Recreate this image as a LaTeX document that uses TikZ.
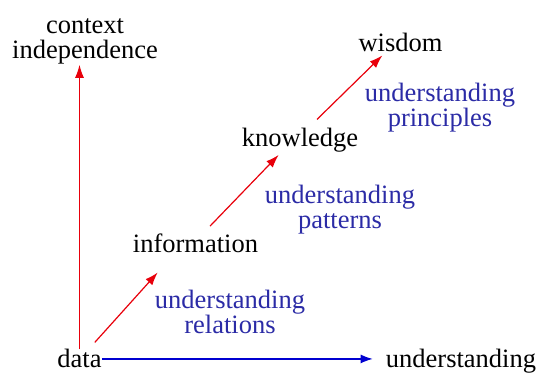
\documentclass[tikz,border=0pt]{standalone}
\usepackage{fontspec}
\setmainfont{Liberation Serif}
\usetikzlibrary{arrows.meta,calc}
\definecolor{DKRed}{HTML}{E8000B}
\definecolor{DKBlue}{HTML}{2B2BA6}
\definecolor{DKArrowBlue}{HTML}{0000D0}

\begin{document}
\begin{tikzpicture}[x=1pt,y=1pt,
  lbl/.style={inner sep=0pt,anchor=base,font=\fontsize{26.5}{25}\selectfont},
  note/.style={lbl,align=center,text=DKBlue},
  redarr/.style={DKRed,line width=1.2pt,-{Latex[length=13pt,width=9pt]}},
  bluearr/.style={DKArrowBlue,line width=1.4pt,-{Latex[length=12pt,width=9pt]}}]
\path[use as bounding box] (0,0) rectangle (537,374);
\node[lbl] (data) at (79.5,6) {data};
\node[lbl] (und) at (461,6) {understanding};
\node[lbl] (info) at (195.5,121) {information};
\node[lbl] (know) at (300,227) {knowledge};
\node[lbl] (wis) at (400.5,322) {wisdom};
\node[lbl,align=center] (ctx) at (85,315) {context\\independence};
\node[note] (rel) at (230,40) {understanding\\relations};
\node[note] (patt) at (340,145) {understanding\\patterns};
\node[note] (princ) at (440,247) {understanding\\principles};
\draw[redarr] (data.north) -- (data.north |- ctx.south);
\draw[redarr] ($(data.north east)+(-7,7)$) -- ($(info.south west)+(25,-19)$);
\draw[redarr] ($(info.north)+(14.5,8)$) -- ($(know.south west)+(37,-2)$);
\draw[redarr] ($(know.north)+(17,9)$) -- ($(wis.south west)+(24,-3)$);
\draw[bluearr] (data.east) -- ($(data.east -| und.west)+(-13,0)$);
\end{tikzpicture}
\end{document}
